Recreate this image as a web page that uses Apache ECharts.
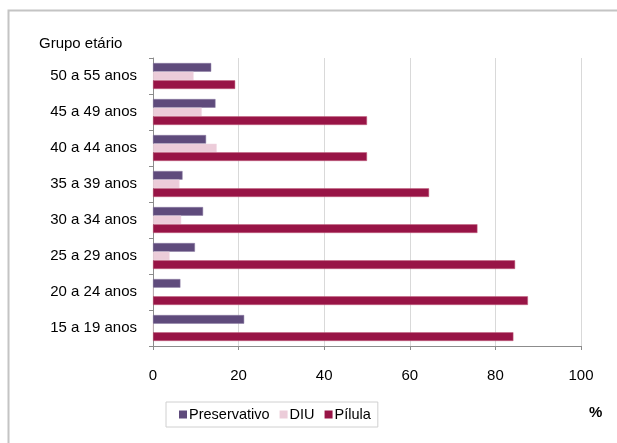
<!DOCTYPE html>
<html><head><meta charset="utf-8">
<script src="https://cdn.jsdelivr.net/npm/echarts@6/dist/echarts.min.js"></script>
<style>html,body{margin:0;padding:0;background:#fff}#c{width:617px;height:443px}</style>
</head><body><div id="c"></div>
<script>
const categories = ['50 a 55 anos','45 a 49 anos','40 a 44 anos','35 a 39 anos','30 a 34 anos','25 a 29 anos','20 a 24 anos','15 a 19 anos'];
const preservativo = [13.6, 14.6, 12.4, 6.9, 11.7, 9.8, 6.4, 21.3];
const diu = [9.5, 11.4, 14.9, 6.2, 6.6, 3.9, 0, 0];
const pilula = [19.2, 50.0, 50.0, 64.5, 75.8, 84.6, 87.6, 84.2];
const xTicks = [0, 20, 40, 60, 80, 100];

const font = 'Liberation Sans, Arial, sans-serif';
const chart = echarts.init(document.getElementById('c'));
chart.setOption({
  animation: false,
  textStyle: {fontFamily: font},
  title: [
    {text: 'Grupo etário', left: 34, top: 31, textStyle: {fontSize: 15, fontWeight: 'normal', color: '#000', fontFamily: font}},
    {text: '%', left: 584, top: 400, textStyle: {fontSize: 15, fontWeight: 'bold', color: '#000', fontFamily: font}}
  ],
  graphic: [{type: 'rect', shape: {x: 8.5, y: 10.5, width: 700, height: 500}, style: {fill: 'none', stroke: '#c4c4c4', lineWidth: 2}, silent: true}],
  legend: {
    data: ['Preservativo', 'DIU', 'Pílula'],
    left: 166, top: 402,
    padding: [5, 7, 5, 13],
    borderColor: '#d0d0d0', borderWidth: 1,
    icon: 'rect', itemWidth: 8, itemHeight: 8, itemGap: 10,
    itemStyle: {borderWidth: 0},
    textStyle: {fontSize: 14.5, color: '#000', fontFamily: font, padding: [0, 0, 0, -3]}
  },
  grid: {left: 153, right: 36, top: 58, bottom: 97},
  xAxis: {
    type: 'value', min: xTicks[0], max: xTicks[xTicks.length - 1], interval: 20,
    axisLine: {show: true, lineStyle: {color: '#8c8c8c', width: 1}},
    axisTick: {show: true, length: 4, lineStyle: {color: '#8c8c8c'}},
    axisLabel: {fontSize: 15, color: '#000', margin: 22},
    splitLine: {show: true, lineStyle: {color: '#d9d9d9', width: 1}}
  },
  yAxis: {
    type: 'category', data: categories, inverse: true,
    axisLine: {show: true, lineStyle: {color: '#8c8c8c', width: 1}},
    axisTick: {show: true, length: 4, inside: false, lineStyle: {color: '#8c8c8c'}},
    axisLabel: {fontSize: 15, color: '#000', margin: 16}
  },
  series: [
    {name: 'Preservativo', type: 'bar', data: preservativo, barGap: '0%', barCategoryGap: '28%',
     itemStyle: {color: '#5f4b7c', borderColor: '#8a7aa2', borderWidth: 0.5}},
    {name: 'DIU', type: 'bar', data: diu, barGap: '0%', barCategoryGap: '28%',
     itemStyle: {color: '#ecccd9', borderColor: '#f3dde6', borderWidth: 0.5}},
    {name: 'Pílula', type: 'bar', data: pilula, barGap: '0%', barCategoryGap: '28%',
     itemStyle: {color: '#981446', borderColor: '#c0607f', borderWidth: 0.5}}
  ]
});
</script></body></html>
